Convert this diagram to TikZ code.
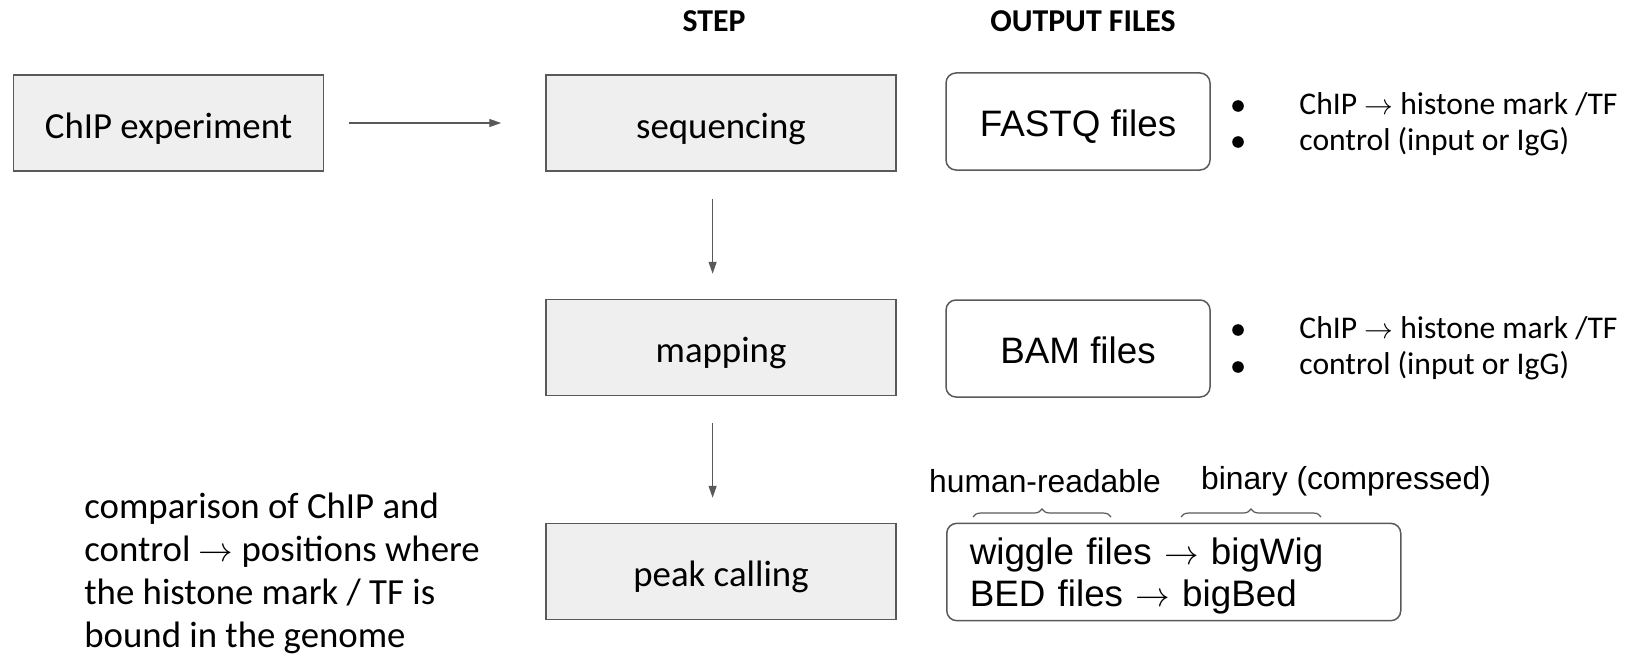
\documentclass[tikz,border=0pt]{standalone}
\usepackage{fontspec}
\setmainfont{Carlito}
\newfontfamily\arialfont{Liberation Sans}
\usetikzlibrary{arrows.meta,decorations.pathreplacing}
\definecolor{boxgray}{HTML}{595959}
\definecolor{stepfill}{HTML}{EFEFEF}
\begin{document}
\begin{tikzpicture}[x=0.5pt,y=-0.5pt,
  stepbox/.style={draw=boxgray,fill=stepfill,line width=0.75pt,minimum width=155pt,minimum height=48pt,
    text height=19.4pt,text depth=4pt,font=\fontsize{18.4}{22}\selectfont},
  filebox/.style={draw=boxgray,rounded corners=5pt,line width=0.75pt,minimum width=132pt,minimum height=48.5pt,
    text height=19.4pt,text depth=4pt,font=\arialfont\fontsize{18.4}{20.7}\selectfont},
  flow/.style={draw=boxgray,line width=0.7pt,-{Triangle[length=6pt,width=4pt]}},
  bullets/.style={anchor=west,align=left,inner sep=0pt,font=\fontsize{15.8}{18}\selectfont},
  head/.style={font=\bfseries\fontsize{15.9}{18}\selectfont},
  note/.style={font=\arialfont\fontsize{15.9}{18}\selectfont},
  brace/.style={draw=boxgray,line width=0.6pt,decorate,decoration={brace,amplitude=4pt}}]
\useasboundingbox (0,0) rectangle (1641,658);
% column titles
\node[head] (stephead) at (714,21) {STEP};
\node[head] (outhead) at (1083,21) {OUTPUT FILES};
% steps
\node[stepbox] (chip) at (168.5,123) {ChIP experiment};
\node[stepbox,minimum width=175pt] (seq) at (721,123) {sequencing};
\node[stepbox,minimum width=175pt] (map) at (721,347.5) {mapping};
\node[stepbox,minimum width=175pt] (peak) at (721,571.5) {peak calling};
\draw[flow,shorten <=12.5pt,shorten >=22pt] (chip) -- (seq);
\draw[flow,shorten <=13.5pt,shorten >=12.5pt] ([xshift=-4.2pt]seq.south) -- ([xshift=-4.2pt]map.north);
\draw[flow,shorten <=13.5pt,shorten >=12.5pt] ([xshift=-4.2pt]map.south) -- ([xshift=-4.2pt]peak.north);
% output files
\node[filebox] (fastq) at (1078,121.5) {FASTQ files};
\node[filebox] (bam) at (1078,348.5) {BAM files};
\node[filebox,minimum width=227pt,text width=204pt,text height=17.4pt,text depth=24.6pt,align=left,anchor=west,inner xsep=11.5pt]
  (wig) at (946,572) {wiggle files $\rightarrow$ bigWig\\BED files $\rightarrow$ bigBed};
\foreach \y in {106,142,330,367} \fill (1238,\y) circle (2.9pt);
\node[bullets] (fastqlist) at (1299,124) {ChIP $\rightarrow$ histone mark /TF\\control (input or IgG)};
\node[bullets] (bamlist) at (1299,348.5) {ChIP $\rightarrow$ histone mark /TF\\control (input or IgG)};
% braces over the last box
\node[note] (human) at (1045,481) {human-readable};
\node[note] (binary) at (1346,481) {binary (compressed)};
\draw[brace] (973,517) -- (1111,517);
\draw[brace] (1181,517) -- (1321,517);
% peak calling note
\node[anchor=west,align=left,inner sep=0pt,font=\fontsize{18.4}{21.4}\selectfont] (cmp) at (84,573.5)
  {comparison of ChIP and\\control $\rightarrow$ positions where\\the histone mark / TF is\\bound in the genome};
\end{tikzpicture}
\end{document}
